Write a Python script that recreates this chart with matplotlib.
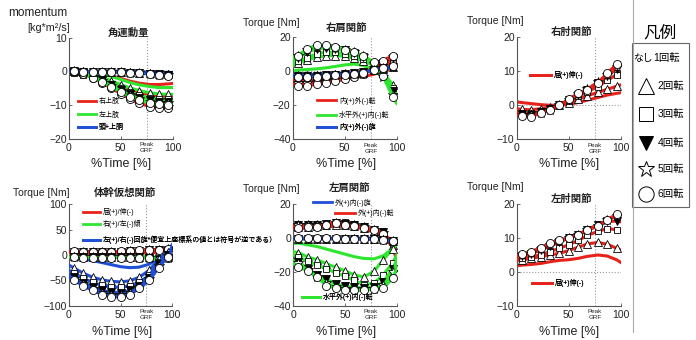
import matplotlib
matplotlib.use('Agg')
import matplotlib.pyplot as plt
from matplotlib.lines import Line2D
from matplotlib.patches import Rectangle

plt.rcParams['font.family'] = ['Liberation Sans', 'Noto Sans CJK JP', 'DejaVu Sans']
plt.rcParams['axes.unicode_minus'] = True

# ---------------- data ----------------
TIME = [0, 5, 14, 23, 32, 41, 50, 59, 68, 78, 87, 96, 100]
MARK_IDX = list(range(1, 12))
ROT_LABELS = ['1回転', '2回転', '3回転', '4回転', '5回転', '6回転']

# 角運動量
am_right_arm = [
    [0, 0, 0, -0.2, -0.6, -1.3, -2.1, -2.9, -3.5, -3.9, -3.9, -3.7, -3.6],
    [0, 0, -0.3, -1.0, -2.0, -3.1, -4.3, -5.4, -6.3, -6.9, -7.2, -7.2, -7.2],
    [0, -0.1, -0.5, -1.4, -2.6, -4.0, -5.5, -6.9, -8.1, -9.1, -9.6, -9.7, -9.7],
    [0, -0.1, -0.6, -1.6, -2.9, -4.4, -6.0, -7.5, -8.7, -9.7, -10.2, -10.3, -10.2],
    [0, -0.1, -0.7, -1.8, -3.1, -4.7, -6.3, -7.8, -9.1, -10.1, -10.6, -10.6, -10.5],
    [0, -0.2, -0.8, -2.0, -3.4, -5.0, -6.6, -8.2, -9.5, -10.4, -10.9, -10.9, -10.8],
]
am_left_arm = [
    [0, 0, -0.1, -0.3, -0.8, -1.5, -2.4, -3.3, -4.0, -4.5, -4.8, -4.8, -4.8],
    [0, 0, -0.3, -0.9, -1.8, -2.8, -3.9, -4.9, -5.7, -6.3, -6.7, -6.8, -6.8],
    [0, -0.1, -0.5, -1.3, -2.4, -3.6, -4.9, -6.1, -7.1, -7.8, -8.2, -8.3, -8.3],
    [0, -0.1, -0.6, -1.5, -2.7, -4.0, -5.4, -6.7, -7.8, -8.6, -9.0, -9.1, -9.1],
    [0, -0.1, -0.7, -1.7, -2.9, -4.3, -5.8, -7.1, -8.2, -9.0, -9.4, -9.5, -9.5],
    [0, -0.2, -0.8, -1.9, -3.2, -4.6, -6.1, -7.5, -8.6, -9.4, -9.8, -9.9, -9.9],
]
am_head_trunk = [
    [0, 0, 0, 0, 0, 0, 0, -0.1, -0.1, -0.2, -0.3, -0.3, -0.3],
    [0, 0, 0, -0.1, -0.1, -0.1, -0.2, -0.3, -0.4, -0.5, -0.7, -0.9, -1.0],
    [0, 0, 0, -0.1, -0.1, -0.2, -0.2, -0.3, -0.4, -0.6, -0.8, -1.0, -1.1],
    [0, 0, -0.1, -0.1, -0.2, -0.2, -0.3, -0.4, -0.5, -0.7, -0.9, -1.1, -1.2],
    [0, 0, -0.1, -0.1, -0.2, -0.2, -0.3, -0.4, -0.5, -0.7, -1.0, -1.2, -1.3],
    [0, 0, -0.1, -0.1, -0.2, -0.3, -0.3, -0.4, -0.6, -0.8, -1.0, -1.3, -1.4],
]

# 右肩関節
rs_add_abd = [
    [-5.0, -5.0, -5.0, -4.8, -4.5, -4.2, -4.0, -3.7, -3.2, -2.0, 0.0, 1.5, 2.0],
    [-4.0, -4.0, -4.2, -4.0, -3.6, -3.1, -2.6, -2.0, -1.0, 1.0, 3.0, 5.0, 5.5],
    [-5.0, -5.5, -5.6, -5.2, -4.6, -4.0, -3.4, -2.6, -1.4, 1.2, 3.8, 6.0, 6.5],
    [-6.0, -6.5, -6.6, -6.1, -5.5, -4.8, -4.0, -3.0, -1.6, 1.5, 4.8, 7.5, 8.0],
    [-7.0, -7.2, -7.2, -6.6, -5.9, -5.1, -4.2, -3.1, -1.6, 1.8, 5.4, 8.4, 9.0],
    [-8.0, -8.6, -8.6, -7.9, -7.0, -6.0, -5.0, -3.8, -2.0, 2.0, 6.0, 9.0, 9.5],
]
rs_horiz = [
    [0.0, 0.5, 0.8, 1.2, 1.8, 2.6, 3.5, 4.0, 3.2, 0.5, -3.0, -8.0, -10.0],
    [3.0, 4.5, 6.5, 8.0, 8.8, 9.0, 8.5, 7.5, 6.0, 3.0, -1.0, -8.0, -11.0],
    [4.0, 5.5, 7.8, 10.0, 11.0, 10.8, 10.0, 9.0, 7.0, 3.5, -1.5, -10.0, -14.0],
    [6.0, 7.5, 11.0, 13.0, 13.5, 13.0, 12.0, 10.5, 8.0, 4.0, -2.5, -12.0, -16.0],
    [7.0, 8.5, 12.0, 14.0, 14.5, 13.6, 12.5, 11.0, 8.5, 4.2, -3.5, -14.0, -18.0],
    [8.0, 9.0, 13.0, 15.0, 15.0, 14.0, 12.5, 11.0, 9.0, 5.0, -3.0, -15.0, -19.0],
]
rs_rot = [
    [-2.0, -2.0, -2.0, -2.0, -1.8, -1.5, -1.2, -1.0, -0.5, 0.5, 1.5, 2.0, 2.2],
    [-2.5, -2.5, -2.6, -2.5, -2.2, -2.0, -1.7, -1.3, -0.8, 0.3, 1.2, 2.0, 2.3],
    [-2.8, -2.8, -2.9, -2.7, -2.4, -2.1, -1.8, -1.4, -0.8, 0.4, 1.4, 2.2, 2.5],
    [-3.0, -3.1, -3.2, -3.0, -2.6, -2.3, -2.0, -1.5, -0.9, 0.4, 1.5, 2.4, 2.7],
    [-3.2, -3.3, -3.4, -3.1, -2.7, -2.4, -2.1, -1.6, -1.0, 0.5, 1.6, 2.5, 2.8],
    [-3.4, -3.6, -3.6, -3.3, -2.9, -2.5, -2.2, -1.7, -1.0, 0.5, 1.8, 2.7, 3.0],
]

# 右肘関節
re_flex = [
    [1.0, 0.8, 0.5, 0.2, 0.0, 0.0, 0.3, 0.8, 1.5, 2.3, 3.0, 3.5, 3.7],
    [-1.0, -1.2, -1.3, -1.0, -0.5, 0.0, 0.8, 1.8, 2.8, 3.8, 4.7, 5.6, 6.0],
    [-2.0, -2.3, -2.4, -1.8, -1.0, 0.0, 1.2, 2.6, 4.0, 5.5, 7.3, 9.0, 9.8],
    [-2.3, -2.7, -2.8, -2.1, -1.2, 0.0, 1.5, 3.0, 4.5, 6.5, 8.5, 10.8, 11.8],
    [-2.6, -3.0, -3.0, -2.3, -1.3, 0.0, 1.7, 3.3, 4.8, 6.8, 9.0, 11.3, 12.3],
    [-2.8, -3.2, -3.3, -2.4, -1.4, 0.0, 1.8, 3.5, 4.6, 6.5, 9.5, 12.0, 12.5],
]

# 体幹仮想関節
tr_flex = [
    [2, 2, 2, 2, 2, 2, 2.5, 3, 3.5, 4.5, 5.5, 6.5, 7],
    [3, 3.5, 3.5, 3.5, 3.5, 4, 4.5, 5, 6, 7, 8, 9, 9],
    [4, 4.5, 4.5, 4.5, 4.5, 5, 5.5, 6, 7, 8, 9, 10, 10],
    [5, 5.5, 5, 5, 5, 5.5, 6, 7, 8, 9, 9.5, 10.5, 11],
    [5.5, 6, 5.5, 5, 5, 5.5, 6.5, 7.5, 8.5, 9.5, 10, 11, 11],
    [6, 7, 6, 5.5, 5.5, 6, 7, 8, 9, 10, 10.5, 11, 12],
]
tr_tilt = [
    [-2, -2, -2, -2, -2, -2, -2, -2, -2.5, -3.5, -5, -3, 0],
    [-2, -2.5, -3, -3, -3, -3, -3, -3, -3.5, -4.5, -7, -4, 0],
    [-3, -3, -3.5, -3.5, -3.5, -3.5, -3.5, -3.5, -4, -5, -8, -4, 0],
    [-3, -3.5, -4, -4, -4, -4, -4, -4, -4.5, -5.5, -9, -5, 0],
    [-3.5, -4, -4.5, -4.5, -4.5, -4.5, -4.5, -4.5, -5, -6, -10, -5, 0],
    [-4, -4.5, -5, -5, -5, -5, -5, -5, -5, -6, -10, -5, 0],
]
tr_rot = [
    [-5, -6, -8, -11, -15, -19, -23, -25, -24, -18, -6, 8, 20],
    [-20, -26, -36, -44, -49, -52, -53, -51, -44, -30, -8, 5, 15],
    [-30, -36, -46, -54, -60, -63, -64, -61, -54, -40, -14, 2, 12],
    [-38, -44, -55, -63, -70, -73, -74, -70, -61, -45, -17, 0, 10],
    [-41, -47, -58, -67, -74, -78, -78, -74, -64, -48, -21, -2, 8],
    [-44, -50, -61, -70, -78, -82, -83, -78, -66, -50, -25, -3, 6],
]

# 左肩関節
ls_rot = [
    [0, 0, 0, 0, 0, 0, 0, 0, 0, 0, -0.3, -1.0, -2.0],
    [-0.3, -0.3, -0.3, -0.3, -0.3, -0.3, -0.3, -0.3, -0.3, -0.5, -0.8, -1.5, -2.5],
    [-0.2, -0.2, -0.2, -0.2, -0.2, -0.2, -0.2, -0.2, -0.3, -0.5, -0.9, -1.6, -2.6],
    [-0.4, -0.4, -0.4, -0.4, -0.4, -0.4, -0.4, -0.4, -0.5, -0.6, -1.0, -1.7, -2.8],
    [-0.3, -0.3, -0.3, -0.3, -0.3, -0.3, -0.3, -0.4, -0.5, -0.7, -1.0, -1.8, -2.9],
    [-0.2, -0.2, -0.2, -0.2, -0.2, -0.2, -0.3, -0.4, -0.5, -0.7, -1.1, -1.9, -3.0],
]
ls_add_abd = [
    [5, 5.5, 6, 6.5, 6.8, 7, 7, 6.5, 5.5, 3.5, 1, -5, -10],
    [6, 6.3, 6.5, 7, 7.5, 8, 7.5, 7, 6, 4, 2, -4, -10],
    [7, 7.2, 7.2, 7.5, 8.2, 9.5, 9.5, 8.5, 7, 5, 3, -3, -12],
    [7.5, 7.5, 7.5, 7.8, 8.5, 9, 8.5, 7.5, 6.5, 5, 3.5, -3, -13],
    [8, 8, 7.5, 7.5, 8, 9, 8.5, 7.5, 6.5, 5, 3, -3.5, -14],
    [6, 6, 6.3, 6.8, 7.8, 8.8, 8, 7, 6, 4.5, 2.5, -2, -12],
]
ls_horiz = [
    [-3, -3, -4, -5, -6.5, -8, -9.5, -11, -12, -12.3, -10.5, -6, -4],
    [-8, -8.6, -11.2, -12.8, -15.2, -17.2, -19.4, -21.7, -23, -19.7, -12.8, -6.5, -4],
    [-10, -11, -13.8, -16, -18, -20.6, -22.5, -25, -27.6, -26.6, -21.7, -14.8, -10],
    [-13, -14, -18, -22, -24.3, -27, -28.6, -29, -29.5, -29, -26, -18.3, -13],
    [-14, -15, -19, -23, -26.5, -29, -30, -30, -30, -30, -28, -20, -15],
    [-15, -17.2, -19.4, -23, -28.2, -29.6, -31, -31, -31, -30.2, -29.6, -23.7, -18],
]

# 左肘関節
le_flex = [
    [1.8, 2.0, 2.2, 2.5, 3.0, 3.4, 3.6, 4.0, 4.6, 5.0, 4.7, 3.6, 2.8],
    [3.3, 3.5, 4.0, 4.5, 5.0, 5.5, 6.3, 7.3, 8.3, 8.7, 8.2, 7.0, 6.5],
    [3.8, 4.0, 4.5, 5.0, 6.0, 7.0, 8.0, 9.3, 10.8, 12.0, 12.8, 12.5, 12.0],
    [4.3, 4.6, 5.3, 6.5, 7.6, 8.8, 10.0, 11.0, 12.5, 14.0, 15.0, 15.0, 14.8],
    [4.6, 5.0, 5.7, 6.8, 8.0, 9.2, 10.0, 11.0, 12.5, 13.5, 15.5, 16.5, 16.5],
    [4.8, 5.2, 6.0, 7.2, 8.5, 9.5, 10.0, 11.0, 12.5, 13.5, 15.5, 17.0, 17.2],
]

# ---------------- style ----------------
W, H = 696, 340
fig = plt.figure(figsize=(W / 100, H / 100), dpi=100)


def fx(px):
    return px / W


def fy(py):
    return 1 - py / H


RED = '#e8221b'
GREEN = '#2ee62e'
BLUE = '#1f4fd6'
MARKERS = [None, '^', 's', 'v', '*', 'o']
FACES = [None, 'white', 'white', 'black', 'white', 'white']
SIZES = [0, 5.2, 4.8, 5.2, 7.2, 5.8]
TXT = '#222222'


def make_axes(left, top, width, height, ylim, yticks):
    ax = fig.add_axes([fx(left), fy(top + height), width / W, height / H])
    ax.set_xlim(0, 100)
    ax.set_ylim(*ylim)
    ax.set_yticks(yticks)
    ax.set_xticks([0, 50, 100])
    ax.set_xticks([75], labels=['Peak\nGRF'], minor=True)
    ax.set_yticks([], minor=True)
    for s in ('top', 'right'):
        ax.spines[s].set_visible(False)
    for s in ('left', 'bottom'):
        ax.spines[s].set_color('#555555')
        ax.spines[s].set_linewidth(0.8)
    ax.tick_params(axis='both', which='major', direction='in', length=2, width=0.6,
                   labelsize=7.5, colors='#555555', labelcolor=TXT)
    ax.tick_params(axis='x', which='major', pad=3)
    ax.tick_params(axis='y', which='major', pad=1.5)
    ax.tick_params(axis='x', which='minor', length=0, labelsize=4.5, pad=2.5, labelcolor=TXT)
    ax.axhline(0, color='#999999', ls=':', lw=0.8, zorder=1)
    ax.axvline(75, color='#999999', ls=':', lw=0.8, zorder=1)
    return ax


def draw_group(ax, series, color):
    for vals, m, fc, ms in zip(series, MARKERS, FACES, SIZES):
        if m is None:
            ax.plot(TIME, vals, color=color, lw=2.2, zorder=2)
        else:
            ax.plot(TIME, vals, color=color, lw=2.2, marker=m, ms=ms, mfc=fc,
                    mec='black', mew=0.6, markevery=MARK_IDX, zorder=3)


def line_label(ax, color, text, x, y, fs=5.0, hl=2.7):
    leg = ax.legend(handles=[Line2D([], [], color=color, lw=2)], labels=[text],
                    loc='center left', bbox_to_anchor=(x, y), bbox_transform=ax.transAxes,
                    frameon=False, fontsize=fs, handlelength=hl, handletextpad=0.4,
                    borderpad=0, borderaxespad=0)
    leg.set_zorder(6)
    ax.add_artist(leg)


def fig_text(px, py, s, **kw):
    kw.setdefault('color', TXT)
    fig.text(fx(px), fy(py), s, **kw)


# ---------------- panels ----------------
# 1: 角運動量
ax1 = make_axes(69, 37.5, 103.5, 101.5, (-20, 10), [-20, -10, 0, 10])
draw_group(ax1, am_right_arm, RED)
draw_group(ax1, am_left_arm, GREEN)
draw_group(ax1, am_head_trunk, BLUE)
line_label(ax1, RED, '右上肢', 0.084, 0.367)
line_label(ax1, GREEN, '左上肢', 0.084, 0.236)
line_label(ax1, BLUE, '頭+上胴', 0.084, 0.111)

# 2: 右肩関節
ax2 = make_axes(292.7, 36.7, 104, 102.6, (-40, 20), [-40, -20, 0, 20])
draw_group(ax2, rs_add_abd, RED)
draw_group(ax2, rs_horiz, GREEN)
draw_group(ax2, rs_rot, BLUE)
line_label(ax2, RED, '内(+)外(-)転', 0.237, 0.376)
line_label(ax2, GREEN, '水平外(+)内(-)転', 0.237, 0.237)
line_label(ax2, BLUE, '内(+)外(-)旋', 0.237, 0.117)

# 3: 右肘関節
ax3 = make_axes(516.7, 37.3, 104, 102, (-10, 20), [-10, 0, 10, 20])
draw_group(ax3, re_flex, RED)
line_label(ax3, RED, '屈(+)伸(-)', 0.128, 0.63, hl=3.0)

# 4: 体幹仮想関節
ax4 = make_axes(69, 204.3, 103, 101.4, (-100, 100), [-100, -50, 0, 50, 100])
draw_group(ax4, tr_flex, RED)
draw_group(ax4, tr_tilt, GREEN)
draw_group(ax4, tr_rot, BLUE)
line_label(ax4, RED, '屈(+)/伸(-)', 0.139, 0.921, hl=2.4)
line_label(ax4, GREEN, '右(+)/左(-)傾', 0.139, 0.803, hl=2.4)
line_label(ax4, BLUE, '左(+)/右(-)回旋*便宜上座標系の値とは符号が逆である）', 0.139, 0.648, hl=2.4)

# 5: 左肩関節
ax5 = make_axes(293.3, 204.3, 103.4, 101.4, (-40, 20), [-40, -20, 0, 20])
draw_group(ax5, ls_add_abd, RED)
draw_group(ax5, ls_horiz, GREEN)
draw_group(ax5, ls_rot, BLUE)
line_label(ax5, BLUE, '外(+)内(-)旋', 0.193, 1.016)
line_label(ax5, RED, '外(+)内(-)転', 0.403, 0.911, hl=2.9)
line_label(ax5, GREEN, '水平外(+)内(-)転', 0.081, 0.083)

# 6: 左肘関節
ax6 = make_axes(516.7, 204.3, 104, 101.4, (-10, 20), [-10, 0, 10, 20])
draw_group(ax6, le_flex, RED)
line_label(ax6, RED, '屈(+)伸(-)', 0.144, 0.221, hl=2.9)

# ---------------- texts ----------------
fig_text(67, 13.3, 'momentum', fontsize=8.5, ha='right', va='center')
fig_text(70, 28.3, '[kg*m²/s]', fontsize=7.8, ha='right', va='center')
for (px, py) in [(300, 22.7), (523.3, 20.7), (70, 193.3), (300, 189.3), (523.3, 187.3)]:
    fig_text(px, py, 'Torque [Nm]', fontsize=7.5, ha='right', va='center')

titles = ['角運動量', '右肩関節', '右肘関節', '体幹仮想関節', '左肩関節', '左肘関節']
title_pos = [(128.3, 33.3), (346.7, 28.3), (571.7, 32.3), (125, 193.3), (350, 187.7), (571.7, 199.3)]
for t, (px, py) in zip(titles, title_pos):
    fig_text(px, py, t, fontsize=7.5, ha='center', va='center', fontweight='bold')

for (px, py) in [(120.8, 164.3), (345.8, 164.3), (569, 164.3),
                 (121.7, 331.7), (345.8, 331.7), (569, 331.7)]:
    fig_text(px, py, '%Time [%]', fontsize=9, ha='center', va='center')

# ---------------- right legend ----------------
fig.add_artist(Line2D([fx(633), fx(633)], [fy(0), fy(332)], color='#aaaaaa', lw=0.8,
                      transform=fig.transFigure))
fig.add_artist(Rectangle((fx(632), fy(207)), fx(689) - fx(632), fy(43) - fy(207),
                         fill=False, ec='#666666', lw=0.8, transform=fig.transFigure))
fig_text(660, 33, '凡例', fontsize=12, ha='center', va='center', color='black')
item_y = [58.3, 86, 114.3, 143.3, 169.3, 194.3]
fig_text(643, item_y[0], 'なし', fontsize=7, ha='center', va='center', color='black')
fig_text(653.5, item_y[0], ROT_LABELS[0], fontsize=7.5, ha='left', va='center', color='black')
leg_sizes = [0, 11, 10, 10, 12, 11]
for i in range(1, 6):
    fig.add_artist(Line2D([fx(645.7)], [fy(item_y[i])], marker=MARKERS[i], ms=leg_sizes[i],
                          mfc=FACES[i], mec='black', mew=0.7, ls='none',
                          transform=fig.transFigure))
    fig_text(657.5, item_y[i], ROT_LABELS[i], fontsize=7.5, ha='left', va='center', color='black')

fig.savefig('out.png', dpi=100)
